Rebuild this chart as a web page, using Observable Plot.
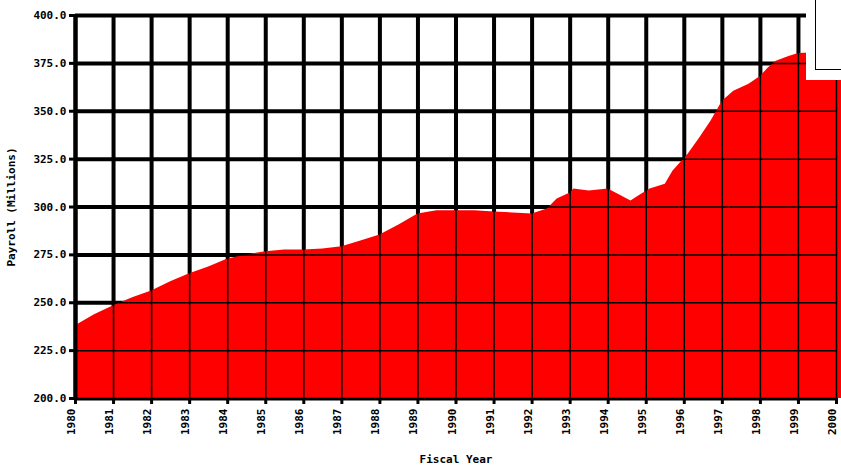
<!DOCTYPE html>
<html><head><meta charset="utf-8">
<script src="https://cdn.jsdelivr.net/npm/d3@7"></script>
<script src="https://cdn.jsdelivr.net/npm/@observablehq/plot@0.6"></script>
<style>
body{margin:0;background:#fff;}
#wrap{position:relative;width:841px;height:472px;overflow:hidden;}
#legend{position:absolute;left:806px;top:0;width:40px;height:80px;background:#fff;}
#legend div{position:absolute;left:9px;top:-2px;width:40px;height:70px;border:1px solid #000;}
</style></head><body><div id="wrap"></div>
<script>
const years = [1980, 1980.5, 1981, 1981.5, 1982, 1982.5, 1983, 1983.5, 1984, 1984.5, 1985, 1985.5, 1986, 1986.5, 1987, 1987.5, 1988, 1988.5, 1989, 1989.5, 1990, 1990.5, 1991, 1991.5, 1992, 1992.4, 1992.66, 1993, 1993.1, 1993.5, 1994, 1994.2, 1994.6, 1994.8, 1995.1, 1995.5, 1995.7, 1996.1, 1996.4, 1996.7, 1997, 1997.3, 1997.7, 1998, 1998.2, 1998.4, 1998.75, 1999, 2000, 2000.2];
const values = [238, 243.7, 248.4, 252.6, 256.2, 261, 265.1, 268.7, 272.9, 275, 276.6, 277.6, 277.6, 278.1, 279.2, 282.3, 285.4, 290.6, 296.4, 298, 298, 298, 297.4, 296.9, 296.4, 299, 304.2, 307.3, 309.4, 308.3, 309.4, 307.3, 303.1, 305.7, 309.4, 311.9, 318.7, 327.6, 335.9, 344.8, 355.2, 360.4, 364.1, 368.2, 372.4, 376, 378.6, 380.2, 381, 381];
const xTicks = d3.range(1980, 2001);
const yTicks = d3.range(200, 401, 25);
const xTitle = "Fiscal Year";
const yTitle = "Payroll (Millions)";
const data = years.map((x, i) => ({x, y: values[i]}));
const plot = Plot.plot({
  width: 841, height: 472,
  marginLeft: 75, marginRight: 5, marginTop: 15, marginBottom: 74,
  style: {fontFamily: "DejaVu Sans Mono", fontWeight: "bold", fontSize: "11px", color: "#000", background: "#fff", overflow: "hidden"},
  x: {domain: [1980, 2000]},
  y: {domain: [200, 400]},
  marks: [
    Plot.ruleX(xTicks, {stroke: "#000", strokeWidth: 4}),
    Plot.ruleY(yTicks, {stroke: "#000", strokeWidth: 4}),
    Plot.areaY(data, {x: "x", y1: 200, y2: "y", fill: "#ff0000"}),
    Plot.ruleX(xTicks, {stroke: "#000", strokeWidth: 1.5}),
    Plot.ruleY(yTicks, {stroke: "#000", strokeWidth: 1.5}),
    Plot.axisX({ticks: xTicks, tickFormat: () => "", tickSize: 6, strokeWidth: 3, label: null}),
    Plot.axisX({ticks: xTicks, tickFormat: d => String(d), tickRotate: -90, tickSize: 0, tickPadding: 10, dx: -4,
      label: xTitle, labelAnchor: "center", labelOffset: 64, labelArrow: "none"}),
    Plot.axisY({ticks: yTicks, tickFormat: d => d.toFixed(1), tickSize: 6, strokeWidth: 3,
      label: yTitle, labelAnchor: "center", labelOffset: 68, labelArrow: "none"}),
    Plot.ruleX([1980], {stroke: "#000", strokeWidth: 4})
  ]
});
const wrap = document.getElementById("wrap");
wrap.appendChild(plot);
const leg = document.createElement("div");
leg.id = "legend";
leg.innerHTML = "<div></div>";
wrap.appendChild(leg);
</script>
</body></html>
